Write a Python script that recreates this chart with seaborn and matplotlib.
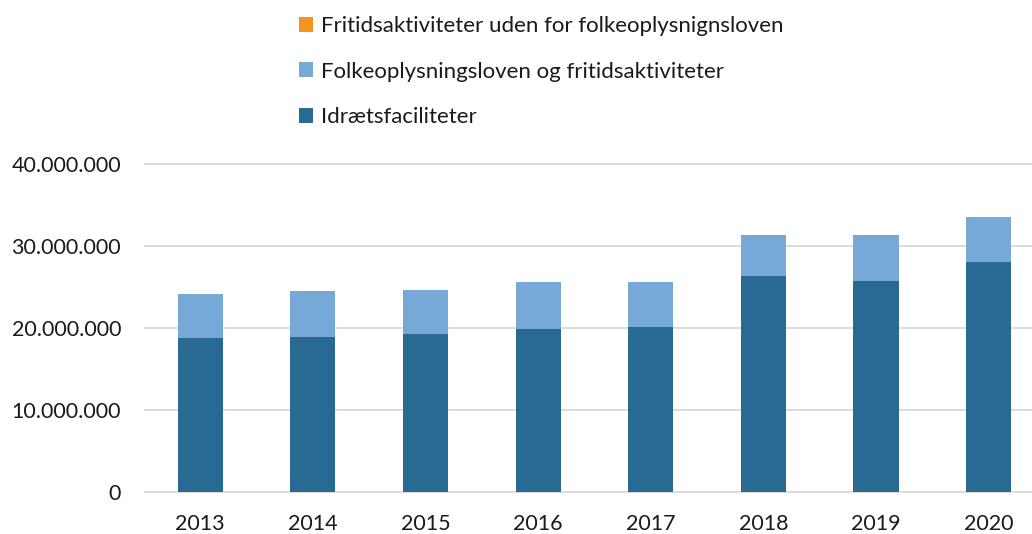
import matplotlib.pyplot as plt
from matplotlib.patches import Patch
from matplotlib.ticker import FuncFormatter
import seaborn as sns
import pandas as pd

# Data (kr.)
years = ["2013", "2014", "2015", "2016", "2017", "2018", "2019", "2020"]
idraetsfaciliteter = [18_820_000, 18_940_000, 19_270_000, 19_880_000, 20_080_000, 26_340_000, 25_730_000, 28_090_000]
folkeoplysning = [5_330_000, 5_610_000, 5_360_000, 5_730_000, 5_530_000, 5_000_000, 5_650_000, 5_360_000]
fritid_uden = [0, 0, 0, 0, 0, 0, 0, 80_000]

labels = ["Fritidsaktiviteter uden for folkeoplysnignsloven",
          "Folkeoplysningsloven og fritidsaktiviteter",
          "Idrætsfaciliteter"]
colors = ["#F7941D", "#77A9D6", "#286A93"]

df = pd.DataFrame({"year": years,
                   "dark": idraetsfaciliteter,
                   "light": folkeoplysning,
                   "orange": fritid_uden})
df["cum_light"] = df["dark"] + df["light"]
df["cum_orange"] = df["cum_light"] + df["orange"]

sns.set_theme(style="white")
plt.rcParams['font.family'] = ['Lato', 'DejaVu Sans']

fig = plt.figure(figsize=(10.32, 5.34), dpi=100)
ax = fig.add_axes([144 / 1032, 0.0757, 1 - 144 / 1032, 0.696 - 0.0757])

# stacked bars: draw cumulative totals from the top down
for col, c in zip(["cum_orange", "cum_light", "dark"], colors):
    sns.barplot(data=df, x="year", y=col, color=c, width=0.4, ax=ax,
                linewidth=0, saturation=1, zorder=3)

ax.set_xlim(-0.5, 7.385)
ax.set_ylim(-200_000, 40_200_000)
ax.set_yticks([0, 10_000_000, 20_000_000, 30_000_000, 40_000_000])
ax.yaxis.set_major_formatter(FuncFormatter(lambda v, p: f"{int(v):,}".replace(",", ".")))
ax.grid(axis="y", color="#D9D9D9", linewidth=1.3, zorder=0)
ax.set_axisbelow(True)
sns.despine(ax=ax, left=True, bottom=True, top=True, right=True)
ax.tick_params(axis="y", length=0, pad=16.5, labelsize=15.5, labelcolor="#1a1a1a")
ax.tick_params(axis="x", length=0, pad=15, labelsize=15.5, labelcolor="#1a1a1a")
ax.set_xlabel("")
ax.set_ylabel("")

handles = [Patch(facecolor=c, edgecolor="none") for c in colors]
fig.legend(handles, labels, loc="upper left", bbox_to_anchor=(299 / 1032, 1 - 16 / 534),
           frameon=False, fontsize=16, handlelength=0.65, handleheight=0.65,
           handletextpad=0.35, labelspacing=1.15, borderpad=0, borderaxespad=0,
           labelcolor="#1a1a1a")

fig.savefig("out.png", dpi=100)
